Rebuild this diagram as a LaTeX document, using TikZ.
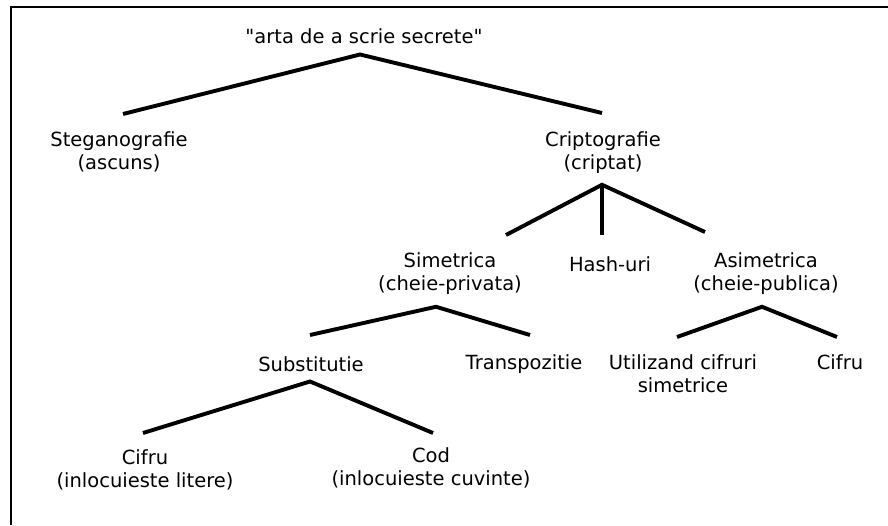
\documentclass[tikz,border=0pt]{standalone}
\usepackage{fontspec}
\setmainfont[Ligatures=TeXOff]{DejaVu Sans}
\usetikzlibrary{positioning}

\begin{document}
\begin{tikzpicture}[
  x=1pt, y=-1pt,
  lbl/.style={font=\fontsize{19.5}{23.5}\selectfont, align=center, inner sep=0pt, anchor=north},
  branch/.style={line width=3.9pt, line join=miter},
  frame/.style={line width=2pt}
]
  \useasboundingbox (0,0) rectangle (888,525);

  %% Frame (top and left edges only)
  \draw[frame] (11,525) -- (11,7) -- (888,7);

  %% Level 0
  \node[lbl] (root) at (364,28) {"arta de a scrie secrete"};

  %% Level 1
  \node[lbl] (steg)   at (119,131) {Steganografie\\(ascuns)};
  \node[lbl] (cripto) at (603,131) {Criptografie\\(criptat)};

  %% Level 2
  \node[lbl] (sim)  at (450,252) {Simetrica\\(cheie-privata)};
  \node[lbl] (hash) at (610,256) {Hash-uri};
  \node[lbl] (asim) at (766,252) {Asimetrica\\(cheie-publica)};

  %% Level 3
  \node[lbl] (subst)  at (311,356) {Substitutie};
  \node[lbl] (transp) at (524,354) {Transpozitie};
  \node[lbl] (util)   at (683,354) {Utilizand cifruri\\simetrice};
  \node[lbl] (cifrua) at (840,354) {Cifru};

  %% Level 4
  \node[lbl] (cifrul) at (145,449) {Cifru\\(inlocuieste litere)};
  \node[lbl] (cod)    at (431,447) {Cod\\(inlocuieste cuvinte)};

  %% Branches
  \draw[branch] ([xshift=4pt,yshift=17pt]steg.north) -- ([xshift=-4pt,yshift=-11pt]root.south) -- ([xshift=-1pt,yshift=18pt]cripto.north);
  \draw[branch] ([xshift=56pt,yshift=17pt]sim.north) -- ([xshift=-1pt,yshift=-11pt]cripto.south) -- ([xshift=-61pt,yshift=20pt]asim.north);
  \draw[branch] ([xshift=-1pt,yshift=-11pt]cripto.south) -- ([xshift=-8pt,yshift=21pt]hash.north);
  \draw[branch] ([xshift=-1pt,yshift=21pt]subst.north) -- ([xshift=-14pt,yshift=-12pt]sim.south) -- ([xshift=6pt,yshift=19pt]transp.north);
  \draw[branch] ([xshift=-6pt,yshift=17pt]util.north) -- ([xshift=-4pt,yshift=-12pt]asim.south) -- ([xshift=-3pt,yshift=17pt]cifrua.north);
  \draw[branch] ([xshift=-2pt,yshift=16pt]cifrul.north) -- ([xshift=-1pt,yshift=-10pt]subst.south) -- ([xshift=2pt,yshift=14pt]cod.north);
\end{tikzpicture}
\end{document}
